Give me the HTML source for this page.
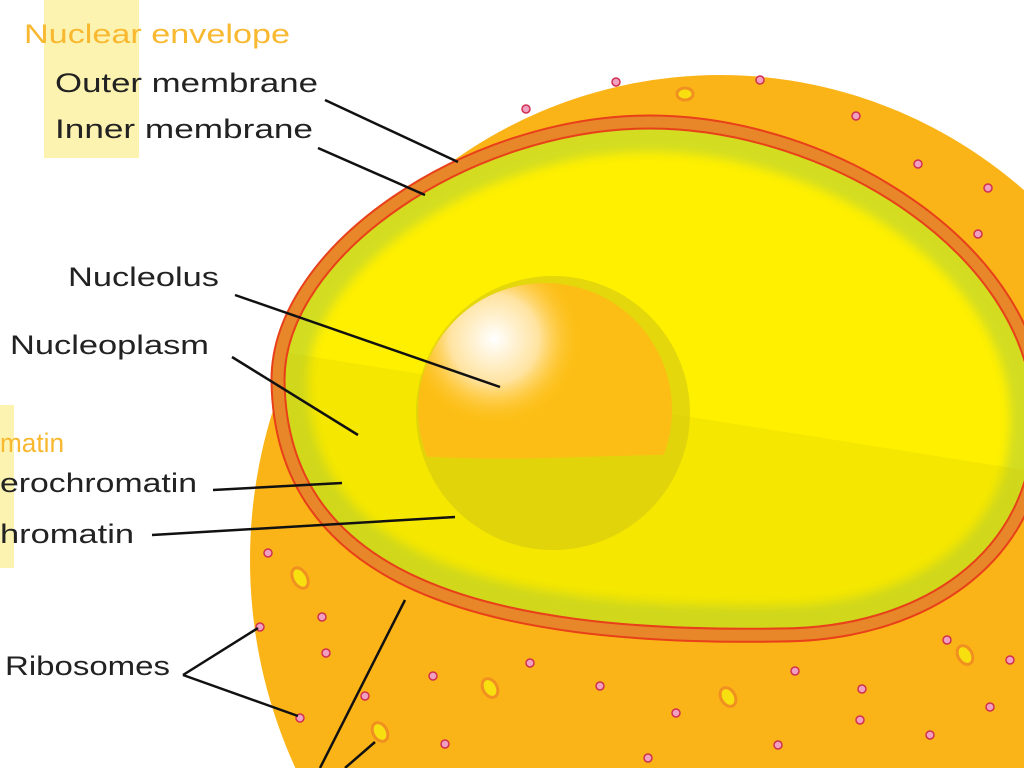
<!DOCTYPE html>
<html><head><meta charset="utf-8"><style>
html,body{margin:0;padding:0;background:#fff;width:1024px;height:768px;overflow:hidden}
svg{display:block}
text{font-family:"Liberation Sans",sans-serif;font-size:27px;fill:#222}
</style></head><body>
<svg width="1024" height="768" viewBox="0 0 1024 768" xmlns="http://www.w3.org/2000/svg">
<defs>
<path id="np" d="M278,380 C278,250 470,122 650,122 C830,122 1040,250 1040,420 C1040,560 920,635 780,635 C480,640 280,580 278,380 Z"/>
<clipPath id="nuc"><use href="#np"/></clipPath>
<clipPath id="top"><path d="M0 0H1024V452Q800 450 545 458Q470 460 400 455V0Z"/></clipPath>
<radialGradient id="hl" cx="0.3" cy="0.22" r="0.35"><stop offset="0" stop-color="#fff"/><stop offset="0.5" stop-color="#ffe3a0"/><stop offset="1" stop-color="#ffc010" stop-opacity="0"/></radialGradient>
<filter id="bl"><feGaussianBlur stdDeviation="5"/></filter>
</defs>
<rect x="44" y="0" width="95" height="158" fill="#fdf3b0"/>
<rect x="0" y="405" width="14" height="163" fill="#fdf3b0"/>
<ellipse cx="720" cy="560" rx="470" ry="485" fill="#fbb418"/>
<use href="#np" fill="#fff000"/>
<g clip-path="url(#nuc)">
<use href="#np" fill="none" stroke="#c8d82a" stroke-width="60" filter="url(#bl)" opacity="0.8"/>
<path d="M270 350L1024 470V700H270Z" fill="#c8c000" opacity="0.18"/>
</g>
<use href="#np" fill="none" stroke="#e84018" stroke-width="15"/>
<use href="#np" fill="none" stroke="#e8862a" stroke-width="11"/>
<circle cx="553" cy="413" r="137" fill="#d8cc10" opacity="0.7"/>
<g clip-path="url(#top)">
<circle cx="545" cy="410" r="127" fill="#fcbe14"/>
<circle cx="545" cy="410" r="127" fill="url(#hl)"/>
</g>
<g fill="#f0a0c0" stroke="#d03050" stroke-width="1.5">
<circle cx="616" cy="82" r="4"/><circle cx="760" cy="80" r="4"/><circle cx="526" cy="109" r="4"/><circle cx="856" cy="116" r="4"/><circle cx="918" cy="164" r="4"/><circle cx="988" cy="188" r="4"/><circle cx="978" cy="234" r="4"/>
<circle cx="268" cy="553" r="4"/><circle cx="260" cy="627" r="4"/><circle cx="300" cy="718" r="4"/><circle cx="322" cy="617" r="4"/><circle cx="326" cy="653" r="4"/><circle cx="365" cy="696" r="4"/><circle cx="433" cy="676" r="4"/><circle cx="530" cy="663" r="4"/><circle cx="600" cy="686" r="4"/><circle cx="676" cy="713" r="4"/><circle cx="795" cy="671" r="4"/><circle cx="862" cy="689" r="4"/><circle cx="860" cy="720" r="4"/><circle cx="947" cy="640" r="4"/><circle cx="990" cy="707" r="4"/><circle cx="930" cy="735" r="4"/><circle cx="778" cy="745" r="4"/><circle cx="648" cy="758" r="4"/><circle cx="445" cy="744" r="4"/><circle cx="1010" cy="660" r="4"/>
</g>
<g fill="#f8e010" stroke="#f09020" stroke-width="3">
<ellipse cx="685" cy="94" rx="8" ry="6"/><ellipse cx="300" cy="578" rx="7" ry="11" transform="rotate(-30 300 578)"/><ellipse cx="490" cy="688" rx="7" ry="10" transform="rotate(-30 490 688)"/><ellipse cx="380" cy="732" rx="7" ry="10" transform="rotate(-30 380 732)"/><ellipse cx="965" cy="655" rx="7" ry="10" transform="rotate(-30 965 655)"/><ellipse cx="728" cy="697" rx="7" ry="10" transform="rotate(-30 728 697)"/>
</g>
<g stroke="#111" stroke-width="2.5" fill="none">
<line x1="325" y1="100" x2="458" y2="162"/><line x1="318" y1="148" x2="425" y2="195"/>
<line x1="235" y1="295" x2="500" y2="387"/><line x1="232" y1="357" x2="358" y2="435"/>
<line x1="213" y1="490" x2="342" y2="483"/><line x1="152" y1="535" x2="455" y2="517"/>
<line x1="183" y1="675" x2="258" y2="628"/><line x1="183" y1="675" x2="298" y2="716"/>
<line x1="405" y1="600" x2="320" y2="768"/><line x1="375" y1="742" x2="345" y2="768"/>
</g>
<text x="24" y="43" textLength="266" lengthAdjust="spacingAndGlyphs" style="fill:#f8b830">Nuclear envelope</text>
<text x="55" y="92" textLength="263" lengthAdjust="spacingAndGlyphs">Outer membrane</text>
<text x="55" y="138" textLength="258" lengthAdjust="spacingAndGlyphs">Inner membrane</text>
<text x="68" y="286" textLength="151" lengthAdjust="spacingAndGlyphs">Nucleolus</text>
<text x="10" y="354" textLength="199" lengthAdjust="spacingAndGlyphs">Nucleoplasm</text>
<text x="0" y="452" textLength="64" lengthAdjust="spacingAndGlyphs" style="fill:#f8b830">matin</text>
<text x="0" y="492" textLength="197" lengthAdjust="spacingAndGlyphs">erochromatin</text>
<text x="0" y="543" textLength="134" lengthAdjust="spacingAndGlyphs">hromatin</text>
<text x="5" y="675" textLength="165" lengthAdjust="spacingAndGlyphs">Ribosomes</text>
</svg>
</body></html>
